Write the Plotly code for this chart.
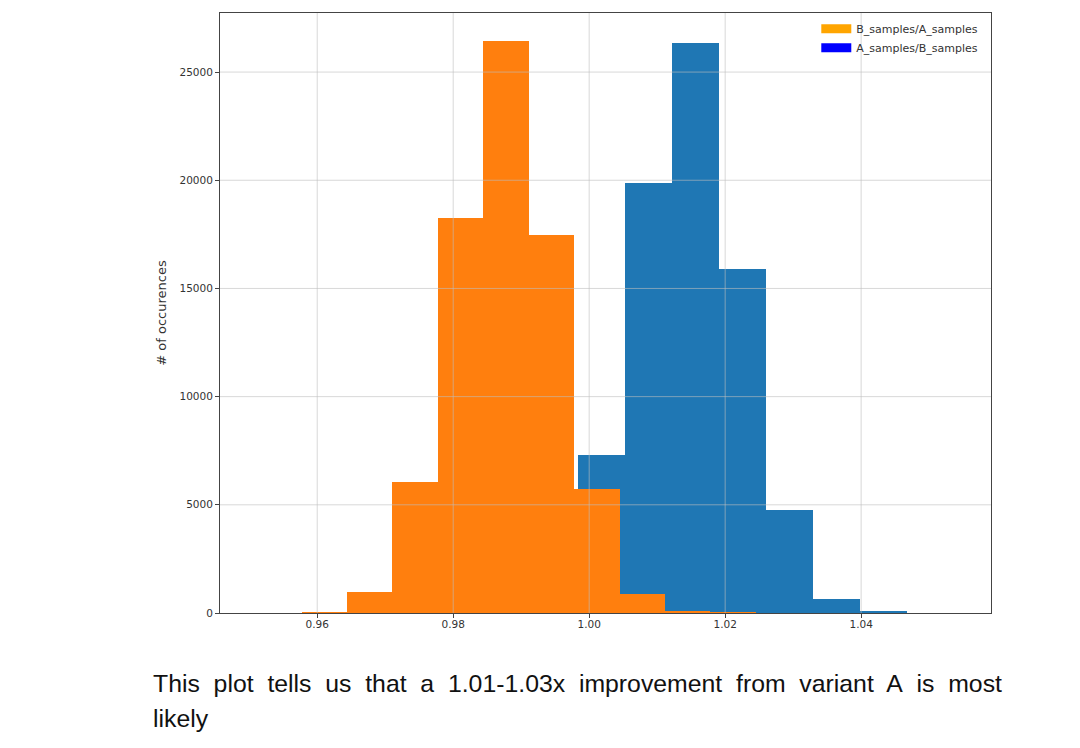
import plotly.graph_objects as go

# histogram bins (left edge of first bin, bin width, counts)
ba_start = 0.9577
ba_width = 0.00668
ba_counts = [40, 970, 6050, 18250, 26430, 17470, 5730, 900, 90, 10]

ab_start = 0.99838
ab_width = 0.00691
ab_counts = [7300, 19870, 26360, 15890, 4760, 650, 50]

x_ticks = [0.96, 0.98, 1.00, 1.02, 1.04]
y_ticks = [0, 5000, 10000, 15000, 20000, 25000]

legend_names = ["B_samples/A_samples", "A_samples/B_samples"]
legend_colors = ["#ffa500", "#0000ff"]

caption = ["This plot tells us that a 1.01-1.03x improvement from variant A is most", "likely"]


def centers(start, width, n):
    return [start + width * (i + 0.5) for i in range(n)]


fig = go.Figure()

# blue first so the orange sits on top like in the original
fig.add_trace(go.Bar(
    x=centers(ab_start, ab_width, len(ab_counts)), y=ab_counts, width=ab_width,
    marker=dict(color="#1f77b4", line=dict(width=0)), showlegend=False))
fig.add_trace(go.Bar(
    x=centers(ba_start, ba_width, len(ba_counts)), y=ba_counts, width=ba_width,
    marker=dict(color="#ff7f0e", line=dict(width=0)), showlegend=False))

# legend patches use different colours than the bars
for name, col in zip(legend_names, legend_colors):
    fig.add_trace(go.Scatter(x=[None], y=[None], mode="lines", name=name,
                             line=dict(color=col, width=9)))

# grid drawn over the bars
for t in x_ticks:
    fig.add_shape(type="line", xref="x", yref="paper", x0=t, x1=t, y0=0, y1=1,
                  line=dict(color="rgba(190,190,190,0.6)", width=1), layer="above")
for t in y_ticks[1:]:
    fig.add_shape(type="line", xref="paper", yref="y", x0=0, x1=1, y0=t, y1=t,
                  line=dict(color="rgba(190,190,190,0.6)", width=1), layer="above")

# fake justification: widen the word gaps on the first line
line1 = caption[0].replace(" ", "\u00a0 ")

fig.update_layout(
    width=1080, height=748,
    margin=dict(l=212, r=97, t=5, b=143),
    plot_bgcolor="white", paper_bgcolor="white",
    barmode="overlay", bargap=0,
    font=dict(family="DejaVu Sans", size=10.5, color="#333"),
    legend=dict(x=0.99, y=0.998, xanchor="right", yanchor="top",
                bgcolor="rgba(255,255,255,0)", font=dict(size=11, color="#333"),
                traceorder="normal", itemwidth=30, tracegroupgap=0),
    annotations=[
        dict(text=line1,
             xref="paper", yref="paper", x=-0.0895, y=-0.117, xanchor="left", yanchor="middle",
             showarrow=False, font=dict(family="Liberation Sans", size=24.8, color="#111")),
        dict(text=caption[1],
             xref="paper", yref="paper", x=-0.0895, y=-0.176, xanchor="left", yanchor="middle",
             showarrow=False, font=dict(family="Liberation Sans", size=24.8, color="#111")),
    ],
)
fig.update_xaxes(range=[0.9457, 1.0591], tickvals=x_ticks, ticktext=["0.96", "0.98", "1.00", "1.02", "1.04"],
                 showgrid=False, zeroline=False, showline=True, mirror=True,
                 linecolor="#444", linewidth=1, ticks="outside", ticklen=4, tickcolor="#444",
                 ticklabelstandoff=-3)
fig.update_yaxes(range=[0, 27730], tickvals=y_ticks, tickformat="d", showgrid=False, zeroline=False,
                 showline=True, mirror=True, linecolor="#444", linewidth=1,
                 ticks="outside", ticklen=4, tickcolor="#444",
                 title=dict(text="# of occurences", standoff=9))

fig.write_html("out.html")
